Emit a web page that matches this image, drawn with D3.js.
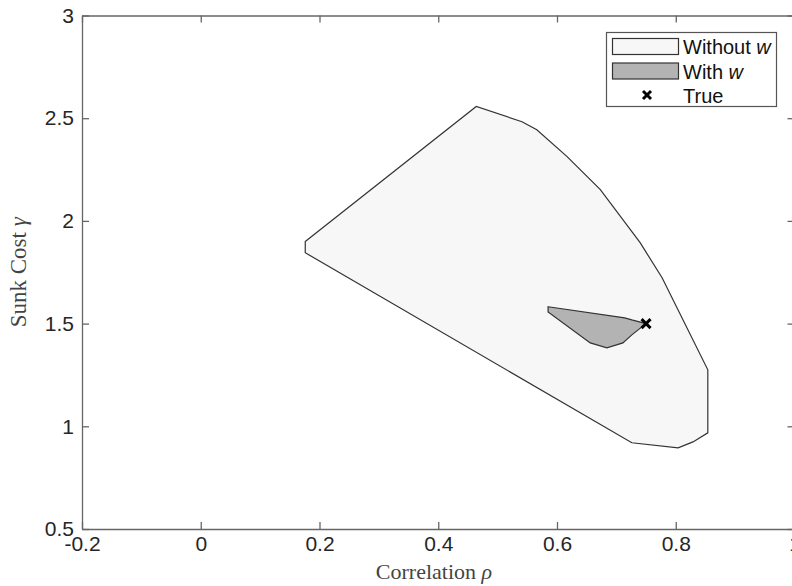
<!DOCTYPE html>
<html>
<head>
<meta charset="utf-8">
<script src="https://cdn.jsdelivr.net/npm/d3@7"></script>
<style>
  body { margin: 0; background: #fff; }
  svg { display: block; }
</style>
</head>
<body>
<div id="chart"></div>
<script>
// axis ticks
const xTicks = [-0.2, 0, 0.2, 0.4, 0.6, 0.8, 1];
const yTicks = [0.5, 1, 1.5, 2, 2.5, 3];

// region without w (outer)
const withoutRho   = [0.176, 0.464, 0.541, 0.566, 0.617, 0.673, 0.740, 0.777, 0.854, 0.854, 0.829, 0.804, 0.726, 0.176];
const withoutGamma = [1.900, 2.557, 2.483, 2.444, 2.313, 2.152, 1.894, 1.723, 1.275, 0.968, 0.924, 0.895, 0.920, 1.845];

// region with w (inner)
const withRho   = [0.585, 0.714, 0.726, 0.750, 0.726, 0.711, 0.684, 0.656, 0.585];
const withGamma = [1.582, 1.528, 1.518, 1.500, 1.445, 1.406, 1.382, 1.406, 1.557];

// true value
const trueRho = [0.75];
const trueGamma = [1.5];

const legendLabels = ["Without", "With", "True"];

const width = 792, height = 586;
const mLeft = 82, mRight = 794.5, mTop = 15.5, mBottom = 529;

const svg = d3.select("#chart")
    .append("svg")
    .attr("width", width)
    .attr("height", height);

const x = d3.scaleLinear().domain([-0.2, 1]).range([mLeft, mRight]);
const y = d3.scaleLinear().domain([0.5, 3]).range([mBottom, mTop]);

const line = d3.line()
    .x(d => x(d[0]))
    .y(d => y(d[1]));

const outer = withoutRho.map((r, i) => [r, withoutGamma[i]]);
const inner = withRho.map((r, i) => [r, withGamma[i]]);

svg.append("path")
    .attr("d", line(outer) + "Z")
    .attr("fill", "#f7f7f7")
    .attr("stroke", "#333")
    .attr("stroke-width", 1.2);

svg.append("path")
    .attr("d", line(inner) + "Z")
    .attr("fill", "#b3b3b3")
    .attr("stroke", "#333")
    .attr("stroke-width", 1.2);

function cross(g, cx, cy, s) {
    g.append("path")
        .attr("d", `M${cx - s},${cy - s}L${cx + s},${cy + s}M${cx - s},${cy + s}L${cx + s},${cy - s}`)
        .attr("stroke", "#000")
        .attr("stroke-width", 3)
        .attr("fill", "none");
}

trueRho.forEach((r, i) => cross(svg, x(r), y(trueGamma[i]), 4.5));

// axes, ticks pointing inward
const tickFont = "'Liberation Sans', Arial, sans-serif";

svg.append("g")
    .attr("transform", `translate(0,${mBottom})`)
    .call(d3.axisBottom(x).tickValues(xTicks).tickFormat(d => String(d)).tickSize(-7).tickSizeOuter(0).tickPadding(7));
svg.append("g")
    .attr("transform", `translate(${mLeft},0)`)
    .call(d3.axisLeft(y).tickValues(yTicks).tickFormat(d => String(d)).tickSize(-7).tickSizeOuter(0).tickPadding(8));
svg.append("g")
    .attr("transform", `translate(0,${mTop})`)
    .call(d3.axisTop(x).tickValues(xTicks).tickFormat("").tickSize(-7).tickSizeOuter(0));
svg.append("g")
    .attr("transform", `translate(${mRight},0)`)
    .call(d3.axisRight(y).tickValues(yTicks).tickFormat("").tickSize(-7).tickSizeOuter(0));

svg.selectAll(".domain, .tick line")
    .attr("stroke", "#666")
    .attr("stroke-width", 1.3);

svg.selectAll(".tick text")
    .attr("fill", "#262626")
    .style("font-family", tickFont)
    .style("font-size", "21px");

// axis titles
svg.append("text")
    .attr("x", 434)
    .attr("y", 579)
    .attr("text-anchor", "middle")
    .attr("fill", "#444")
    .style("font-family", "'Liberation Serif', 'Times New Roman', serif")
    .style("font-size", "22px")
    .html("Correlation <tspan font-style='italic'>ρ</tspan>");

svg.append("text")
    .attr("transform", `translate(26,${(mTop + mBottom) / 2}) rotate(-90)`)
    .attr("text-anchor", "middle")
    .attr("fill", "#444")
    .style("font-family", "'Liberation Serif', 'Times New Roman', serif")
    .style("font-size", "23px")
    .html("Sunk Cost <tspan font-style='italic'>γ</tspan>");

// legend
const lg = svg.append("g");
lg.append("rect")
    .attr("x", 606.5).attr("y", 32.5)
    .attr("width", 170).attr("height", 74)
    .attr("fill", "#fff")
    .attr("stroke", "#555")
    .attr("stroke-width", 1.2);

const swatchFill = ["#f7f7f7", "#b3b3b3"];
swatchFill.forEach((c, i) => {
    lg.append("rect")
        .attr("x", 612.5).attr("y", 38.5 + i * 24.5)
        .attr("width", 66).attr("height", 16)
        .attr("fill", c)
        .attr("stroke", "#333")
        .attr("stroke-width", 1.2);
});
cross(lg, 647, 95, 4);

legendLabels.forEach((t, i) => {
    const tx = lg.append("text")
        .attr("x", 683)
        .attr("y", 54 + i * 24.5)
        .attr("fill", "#111")
        .style("font-family", tickFont)
        .style("font-size", "20px")
        .text(t);
    if (i < 2) tx.append("tspan").attr("font-style", "italic").text(" w");
});
</script>
</body>
</html>
